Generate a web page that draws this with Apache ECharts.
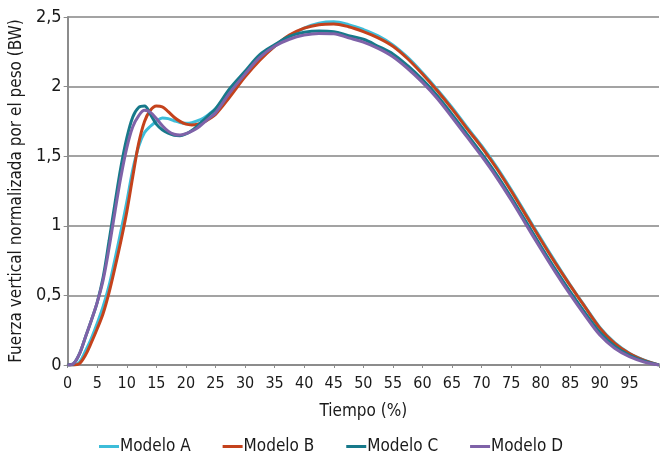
<!DOCTYPE html>
<html>
<head>
<meta charset="utf-8">
<script src="https://cdn.jsdelivr.net/npm/echarts@6/dist/echarts.min.js"></script>
<style>
html,body{margin:0;padding:0;background:#fff;}
#chart{width:662px;height:456px;}
</style>
</head>
<body>
<div id="chart"></div>
<script>
var tiempo = [0,1,2,3,4,5,6,7,8,9,10,11,12,13,14,15,16,17,18,19,20,21,22,23,24,25,
  27.5,30,32.5,35,37.5,40,42.5,45,47.5,50,52.5,55,57.5,60,62.5,65,67.5,70,72.5,75,77.5,80,82.5,85,87.5,90,92.5,95,97.5,100];

var modeloA = [0,0,0.02,0.10,0.19,0.30,0.42,0.57,0.76,0.96,1.17,1.40,1.57,1.67,1.715,1.75,1.775,1.77,1.755,1.742,1.736,1.74,1.755,1.775,1.805,1.84,
  1.96,2.08,2.20,2.29,2.36,2.42,2.455,2.465,2.445,2.41,2.365,2.30,2.21,2.10,1.98,1.85,1.71,1.575,1.425,1.26,1.085,0.91,0.74,0.575,0.42,0.27,0.16,0.085,0.035,0];

var modeloB = [0,0,0.01,0.07,0.16,0.26,0.37,0.52,0.70,0.89,1.10,1.35,1.59,1.75,1.83,1.86,1.855,1.82,1.78,1.75,1.73,1.725,1.73,1.745,1.77,1.80,
  1.93,2.07,2.19,2.29,2.37,2.42,2.445,2.45,2.43,2.395,2.35,2.29,2.20,2.09,1.97,1.84,1.70,1.565,1.415,1.25,1.075,0.90,0.73,0.57,0.415,0.265,0.155,0.082,0.033,0];

var modeloC = [0,0.01,0.08,0.20,0.32,0.45,0.63,0.89,1.16,1.42,1.63,1.78,1.85,1.86,1.80,1.73,1.69,1.665,1.65,1.647,1.66,1.685,1.72,1.76,1.80,1.84,
  1.99,2.11,2.23,2.30,2.36,2.39,2.40,2.395,2.365,2.34,2.29,2.235,2.15,2.05,1.935,1.80,1.66,1.52,1.37,1.205,1.03,0.855,0.685,0.525,0.375,0.235,0.135,0.07,0.028,0];

var modeloD = [0,0.01,0.08,0.20,0.32,0.45,0.61,0.84,1.10,1.35,1.56,1.71,1.79,1.83,1.815,1.77,1.72,1.68,1.658,1.652,1.662,1.68,1.705,1.74,1.775,1.81,
  1.96,2.09,2.21,2.29,2.34,2.37,2.382,2.38,2.35,2.32,2.275,2.215,2.13,2.03,1.915,1.78,1.64,1.50,1.35,1.185,1.01,0.835,0.665,0.505,0.355,0.215,0.12,0.06,0.022,0];

var seriesNames = ['Modelo A','Modelo B','Modelo C','Modelo D'];
var seriesColors = ['#3dbdd9','#c4421c','#17798a','#7f62a8'];
var seriesValues = [modeloA, modeloB, modeloC, modeloD];

var xTitle = 'Tiempo (%)';
var yTitle = 'Fuerza vertical normalizada por el peso (BW)';

var FONT = "'Liberation Sans Narrow','DejaVu Sans Condensed','Roboto',sans-serif";

function pairs(vals){
  return tiempo.map(function(t,i){ return [t, vals[i]]; });
}

var chart = echarts.init(document.getElementById('chart'), null, {renderer:'canvas'});
chart.setOption({
  animation:false,
  backgroundColor:'#fff',
  grid:{left:66, right:1, top:17, bottom:91, containLabel:false},
  legend:{
    bottom:1,
    left:'center',
    padding:0,
    itemWidth:20, itemHeight:3, itemGap:32,
    icon:'rect',
    textStyle:{fontFamily:FONT, fontSize:17, color:'#1a1a1a', padding:[0,0,0,-4]},
    data:seriesNames
  },
  xAxis:{
    type:'value', min:0, max:100, interval:5,
    name:xTitle, nameLocation:'middle', nameGap:38,
    nameTextStyle:{fontFamily:FONT, fontSize:17, color:'#1a1a1a'},
    axisLine:{lineStyle:{color:'#8c8c8c', width:2}},
    axisTick:{show:true, length:3, lineStyle:{color:'#8c8c8c', width:1}},
    axisLabel:{fontFamily:FONT, fontSize:16, color:'#1a1a1a', margin:11,
      formatter:function(v){ return v===100 ? '' : String(v); }},
    splitLine:{show:false}
  },
  yAxis:{
    type:'value', min:0, max:2.5, interval:0.5,
    name:yTitle, nameLocation:'middle', nameGap:33,
    nameTextStyle:{fontFamily:FONT, fontSize:17, color:'#1a1a1a'},
    axisLine:{show:true, lineStyle:{color:'#8c8c8c', width:2}},
    axisTick:{show:true, length:4, lineStyle:{color:'#8c8c8c', width:1}},
    axisLabel:{fontFamily:FONT, fontSize:18, color:'#1a1a1a', margin:6,
      formatter:function(v){ return String(v).replace('.',','); }},
    splitLine:{show:true, lineStyle:{color:'#a3a3a3', width:2}}
  },
  series: seriesNames.map(function(n,i){
    return {
      name:n, type:'line', data:pairs(seriesValues[i]),
      smooth:0.35, showSymbol:false, symbol:'none',
      lineStyle:{color:seriesColors[i], width:3},
      itemStyle:{color:seriesColors[i]}
    };
  })
});
</script>
</body>
</html>
